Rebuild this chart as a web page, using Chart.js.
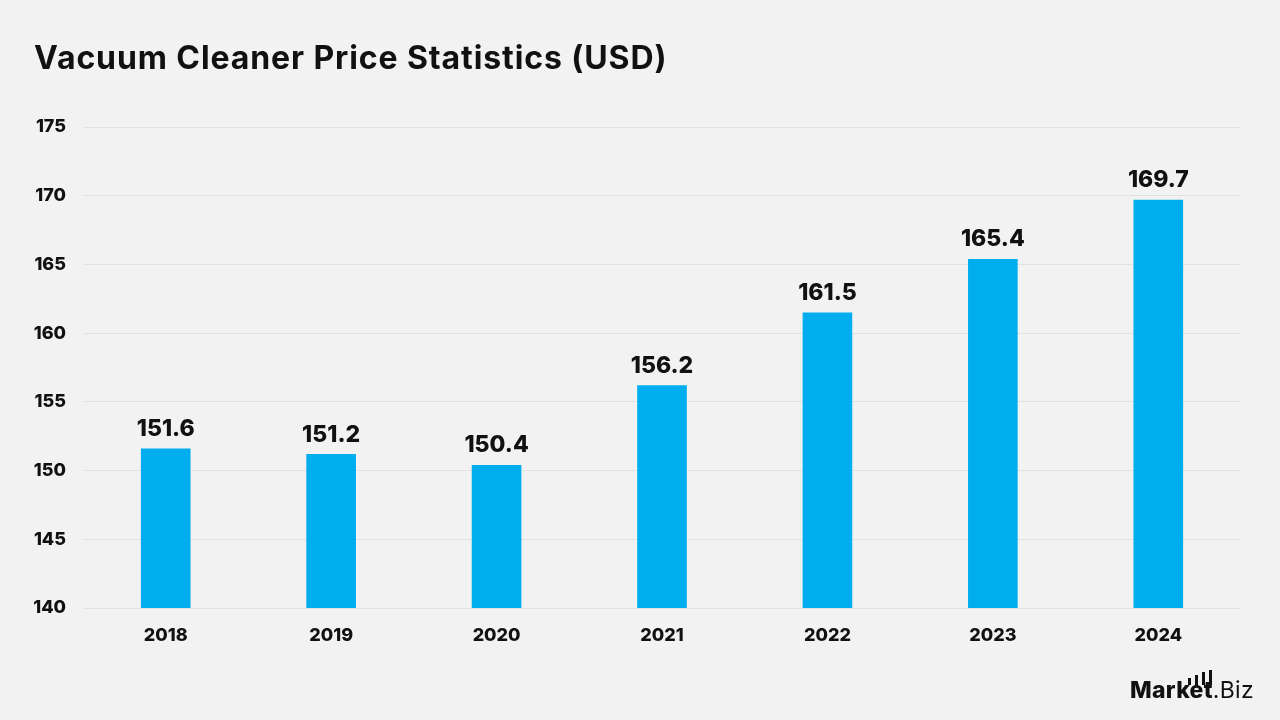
<!DOCTYPE html>
<html><head><meta charset="utf-8">
<script src="https://cdn.jsdelivr.net/npm/chart.js@4/dist/chart.umd.min.js"></script>
<style>
html,body{margin:0;padding:0;background:#f2f2f2;}
#wrap{position:relative;width:1280px;height:720px;background:#f2f2f2;font-family:Inter,"Open Sans",sans-serif;}
#title{position:absolute;left:34px;top:38px;font-size:32px;font-weight:700;color:#111;letter-spacing:0.9px;white-space:nowrap;}
#logo{position:absolute;left:1130px;top:676px;font-size:23px;color:#111;white-space:nowrap;letter-spacing:0.3px;}
#logo b{font-weight:800;}
#logo span{font-weight:400;}
.lb{position:absolute;width:3px;background:#111;}
canvas{position:absolute;left:0;top:0;}
</style></head>
<body><div id="wrap">
<canvas id="c" width="1280" height="720"></canvas>
<div id="title">Vacuum Cleaner Price Statistics (USD)</div>
<div id="logo"><b>Market</b><span>.Biz</span></div>
<div class="lb" style="left:1188px;top:678px;height:7px"></div>
<div class="lb" style="left:1195px;top:675px;height:10px"></div>
<div class="lb" style="left:1202px;top:672px;height:13px"></div>
<div class="lb" style="left:1209px;top:670px;height:15px"></div>
</div>
<script>
const categories = ["2018","2019","2020","2021","2022","2023","2024"];
const prices = [151.6, 151.2, 150.4, 156.2, 161.5, 165.4, 169.7];
const yTicks = [140,145,150,155,160,165,170,175];

const labelPlugin = {
  id:'vals',
  afterDatasetsDraw(chart){
    const ctx = chart.ctx;
    const meta = chart.getDatasetMeta(0);
    ctx.save();
    ctx.font = '800 23px Inter, "Open Sans", sans-serif';
    ctx.fillStyle = '#111';
    ctx.textAlign = 'center';
    ctx.textBaseline = 'bottom';
    meta.data.forEach((bar,i)=>{
      ctx.fillText(prices[i].toFixed(1), bar.x, bar.y - 8);
    });
    ctx.restore();
  }
};

new Chart(document.getElementById('c'), {
  type:'bar',
  data:{labels:categories, datasets:[{data:prices, backgroundColor:'#00aeef', barPercentage:0.3, categoryPercentage:1}]},
  options:{
    responsive:false, animation:false,
    layout:{padding:{top:127,right:39,left:0,bottom:0}},
    plugins:{legend:{display:false},tooltip:{enabled:false}},
    scales:{
      x:{grid:{display:false},border:{display:false},
         ticks:{color:'#111',font:{family:'Inter',size:18,weight:'800'},padding:9},
         afterFit(s){s.height=112;}},
      y:{min:140,max:175,
         grid:{color:'#e2e2e2',drawTicks:false},border:{display:false},
         afterBuildTicks(s){s.ticks=yTicks.map(v=>({value:v}));},
         ticks:{color:'#111',font:{family:'Inter',size:18,weight:'800'},padding:17},
         afterFit(s){s.width=83;}}
    }
  },
  plugins:[labelPlugin]
});
</script>
</body></html>
